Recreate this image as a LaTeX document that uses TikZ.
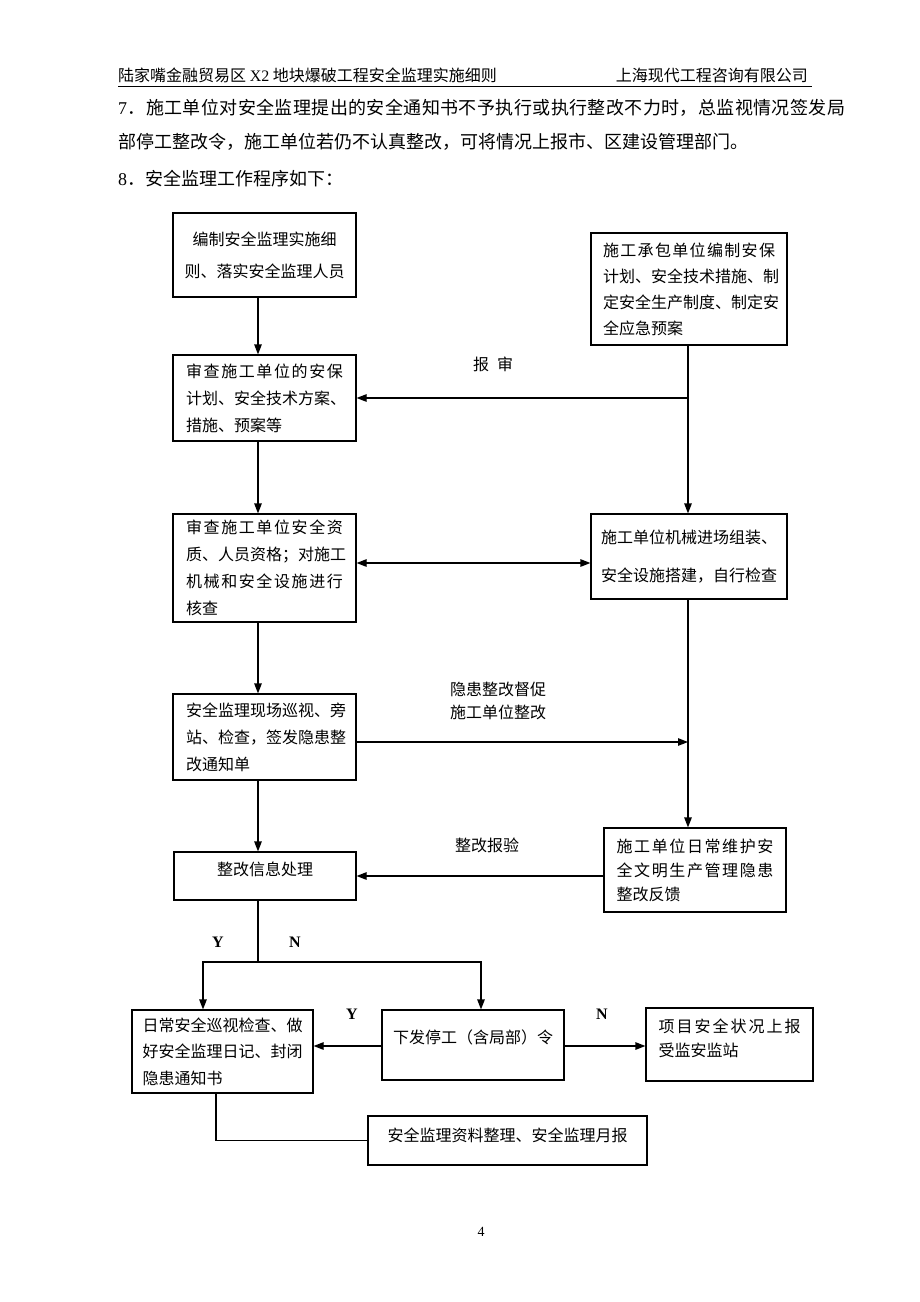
\documentclass[tikz,border=0pt]{standalone}
\usepackage{fontspec}
\setmainfont{Liberation Serif}
\newfontfamily\cjk{Noto Sans CJK SC}
\usetikzlibrary{arrows.meta}
\def\spx#1{\ifx#1\relax\else\hskip0pt plus 1fil#1\expandafter\spx\fi}
\def\spfirst#1{#1\spx}
\newcommand\spl[2]{\hbox to #1{\spfirst#2\relax}}
\begin{document}
\begin{tikzpicture}[x=1pt,y=-1pt,
  box/.style={draw, line width=1.2pt, inner sep=0pt, align=left, font=\cjk\fontsize{16}{27}\selectfont},
  arr/.style={line width=1.2pt, -{Triangle[length=10pt,width=7.5pt]}},
  arrd/.style={line width=1.2pt, {Triangle[length=10pt,width=7.5pt]}-{Triangle[length=10pt,width=7.5pt]}},
  ln/.style={line width=1.2pt},
  lbl/.style={font=\cjk\fontsize{16}{23}\selectfont, inner sep=0pt, align=center},
  yn/.style={font=\bfseries\fontsize{16}{16}\selectfont, inner sep=0pt},
  body/.style={font=\cjk\fontsize{18}{18}\selectfont, inner sep=0pt, anchor=base west}
]
\useasboundingbox[fill=white] (0,0) rectangle (920,1302);

% header
\node[inner sep=0pt, anchor=base west, font=\cjk\fontsize{16}{16}\selectfont] (hl) at (118,81) {陆家嘴金融贸易区 {\rmfamily X2} 地块爆破工程安全监理实施细则};
\node[inner sep=0pt, anchor=base east, font=\cjk\fontsize{16}{16}\selectfont] (hr) at (808,81) {上海现代工程咨询有限公司};
\draw[line width=0.8pt] (hl.base west) ++(0,5) coordinate (ul1) -- (ul1 -| 812,0);

% body text
\node[body] (p1) at (118,114) {\hbox to 727pt{{\rmfamily 7}\spx ．施工单位对安全监理提出的安全通知书不予执行或执行整改不力时，总监视情况签发局\relax}};
\node[body] (p2) at (118,148) {部停工整改令，施工单位若仍不认真整改，可将情况上报市、区建设管理部门。};
\node[body] (p3) at (118,185) {{\rmfamily 8}．安全监理工作程序如下：};

% boxes
\node[box, align=center, font=\cjk\fontsize{16}{32}\selectfont, minimum width=183pt, minimum height=84pt] (B1) at (264.5,255) {编制安全监理实施细\\则、落实安全监理人员};
\node[box, font=\cjk\fontsize{16}{26}\selectfont, minimum width=196pt, minimum height=112pt] (B2) at (689,289) {\spl{172pt}{施工承包单位编制安保}\\\spl{172pt}{计划、安全技术措施、制}\\\spl{172pt}{定安全生产制度、制定安}\\全应急预案};
\node[box, minimum width=183pt, minimum height=86pt] (B3) at (264.5,398) {\spl{157pt}{审查施工单位的安保}\\\spl{157pt}{计划、安全技术方案、}\\措施、预案等};
\node[box, minimum width=183pt, minimum height=108pt] (B4L) at (264.5,568) {\spl{157pt}{审查施工单位安全资}\\\spl{157pt}{质、人员资格；对施工}\\\spl{157pt}{机械和安全设施进行}\\核查};
\node[box, font=\cjk\fontsize{16}{38}\selectfont, minimum width=196pt, minimum height=85pt] (B4R) at (689,556.5) {施工单位机械进场组装、\\\spl{172pt}{安全设施搭建，自行检查}};
\node[box, minimum width=183pt, minimum height=86pt] (B5) at (264.5,737) {\spl{157pt}{安全监理现场巡视、旁}\\\spl{157pt}{站、检查，签发隐患整}\\改通知单};
\node[box, align=center, text depth=14pt, minimum width=182pt, minimum height=48pt] (B6L) at (265,876) {整改信息处理};
\node[box, font=\cjk\fontsize{16}{24}\selectfont, minimum width=182pt, minimum height=84pt] (B6R) at (695,870) {\spl{157pt}{施工单位日常维护安}\\\spl{157pt}{全文明生产管理隐患}\\整改反馈};
\node[box, font=\cjk\fontsize{16}{26.5}\selectfont, minimum width=181pt, minimum height=83pt] (B7L) at (222.5,1051.5) {\spl{160pt}{日常安全巡视检查、做}\\\spl{160pt}{好安全监理日记、封闭}\\隐患通知书};
\node[box, align=center, text depth=16pt, minimum width=182pt, minimum height=70pt] (B7M) at (473,1045) {下发停工（含局部）令};
\node[box, font=\cjk\fontsize{16}{24}\selectfont, text depth=14pt, minimum width=167pt, minimum height=73pt] (B7R) at (729.5,1044.5) {\spl{142pt}{项目安全状况上报}\\受监安监站};
\node[box, align=center, text depth=12pt, minimum width=279pt, minimum height=49pt] (B8) at (507.5,1140.5) {安全监理资料整理、安全监理月报};

% spines and helper coordinates
\coordinate (ls) at (258,0);
\coordinate (rs) at (688,0);
\coordinate (dm) at (0,563);
\coordinate (h5) at (0,742);
\coordinate (jn) at (258,962);
\coordinate (jl) at (203,962);
\coordinate (jr) at (481,962);
\coordinate (hm) at (0,1046);
\coordinate (b8) at (216,0);

% connectors
\draw[arr] (B1.south -| ls) -- (B3.north -| ls);
\draw[arr] (B2.south -| rs) -- (B4R.north -| rs);
\draw[arr] (rs |- B3.east) -- (B3.east);
\draw[arr] (B3.south -| ls) -- (B4L.north -| ls);
\draw[arrd] (B4L.east |- dm) -- (B4R.west |- dm);
\draw[arr] (B4L.south -| ls) -- (B5.north -| ls);
\draw[arr] (B5.east |- h5) -- (rs |- h5);
\draw[arr] (B4R.south -| rs) -- (B6R.north -| rs);
\draw[arr] (B6R.west |- B6L.east) -- (B6L.east);
\draw[arr] (B5.south -| ls) -- (B6L.north -| ls);
\draw[ln] (B6L.south -| jn) -- (jn);
\draw[arr] (jn) -- (jl) -- (B7L.north -| jl);
\draw[arr] (jn) -- (jr) -- (B7M.north -| jr);
\draw[arr] (B7M.west |- hm) -- (B7L.east |- hm);
\draw[arr] (B7M.east |- hm) -- (B7R.west |- hm);
\draw[ln] (B7L.south -| b8) |- (B8.west);

% labels
\node[lbl] (Lbs) at (493,364) {报\hspace{8pt}审};
\node[lbl] (Lyh) at (498,701) {隐患整改督促\\施工单位整改};
\node[lbl] (Lzg) at (487,845) {整改报验};
\node[yn] (Y1) at (218,942) {Y};
\node[yn] (N1) at (295,942) {N};
\node[yn] (Y2) at (352,1014) {Y};
\node[yn] (N2) at (602,1014) {N};
\node[inner sep=0pt, font=\fontsize{14}{14}\selectfont] (pg) at (481,1232) {4};
\end{tikzpicture}
\end{document}
